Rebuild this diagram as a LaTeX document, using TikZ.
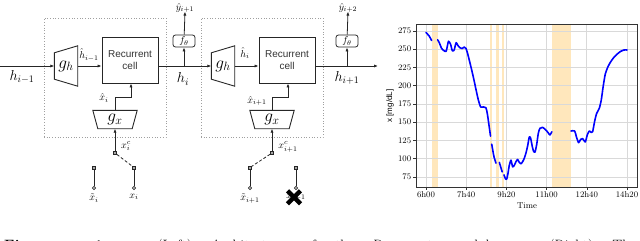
\documentclass[tikz,border=0pt]{standalone}
\usepackage{amsmath,amssymb}
\usepackage{fontspec}
\setsansfont{Liberation Sans}
\usepackage{tikz}
\usetikzlibrary{positioning, arrows.meta}

\definecolor{gapfill}{RGB}{255,231,188}

\begin{document}
\begin{tikzpicture}[
    x=1pt, y=-1pt,
    wire/.style={draw=black!85, line width=0.8pt},
    conn/.style={wire, -{Latex[length=4pt, width=3.2pt]}},
    cellbox/.style={draw=black!85, line width=0.9pt, minimum width=56pt, minimum height=46pt, font=\sffamily, text=black!80, align=center},
    blockbox/.style={draw=gray!75, dotted, line width=0.7pt, minimum width=122pt, minimum height=119pt},
    ghbox/.style={inner sep=0pt, minimum width=23pt, minimum height=40pt, font=\LARGE},
    gxbox/.style={inner sep=0pt, minimum width=44pt, minimum height=18pt, font=\LARGE},
    trap/.style={draw=black!85, line width=0.9pt},
    fbox/.style={draw=black!85, line width=0.8pt, rounded corners=2.5pt, minimum width=22pt, minimum height=12pt, inner sep=0pt},
    port/.style={draw=black!85, fill=black!35, minimum size=3.2pt, inner sep=0pt, line width=0.6pt},
    term/.style={circle, draw=black!85, fill=white, minimum size=3.2pt, inner sep=0pt, line width=0.6pt},
    hlbl/.style={font=\Large},
    smalllbl/.style={inner sep=1pt},
    ticklbl/.style={font=\fontsize{8.5}{10}\selectfont, inner sep=1.5pt},
    gridline/.style={draw=gray!30, line width=0.7pt},
    axisline/.style={draw=black!80, line width=0.6pt},
    curve/.style={blue, line width=1.6pt, line join=round, line cap=round},
]
\useasboundingbox (0,0) rectangle (640,241);

% --- two unrolled blocks ---
\foreach \k/\d in {A/0, B/157} {
    \node[blockbox] (box\k) at (105+\d, 77.5) {};
    \node[ghbox] (gh\k) at (66+\d, 66) {$g_h$};
    \draw[trap] ([yshift=-7pt]gh\k.north west) -- (gh\k.north east)
        -- (gh\k.south east) -- ([yshift=7pt]gh\k.south west) -- cycle;
    \node[cellbox] (cell\k) at (130+\d, 60) {Recurrent\\cell};
    \draw[conn] (gh\k.east) -- (cell\k.west |- gh\k.east);
    \node[gxbox] (gx\k) at (115+\d, 119.5) {$g_x$};
    \draw[trap] (gx\k.north west) -- (gx\k.north east)
        -- ([xshift=-5pt]gx\k.south east) -- ([xshift=5pt]gx\k.south west) -- cycle;
    \coordinate (bend\k) at (131+\d, 97);
    \draw[conn] (gx\k.north) |- (bend\k) -- (bend\k |- cell\k.south);
    \node[port] (sw\k) at (115+\d, 153) {};
    \draw[conn] (sw\k) -- (gx\k.south);
}

% --- inputs: switch between imputed and observed value ---
\foreach \k/\l/\r in {A/94/134, B/250/296} {
    \node[port] (lt\k) at (\l, 167.5) {};
    \node[port] (rt\k) at (\r, 167.5) {};
    \node[term] (lb\k) at (\l, 188) {};
    \node[term] (rb\k) at (\r, 188) {};
    \draw[wire] (lt\k) -- (lb\k);
    \draw[wire] (rt\k) -- (rb\k);
}
\draw[wire, dash pattern=on 3pt off 2pt] (swA) -- (rtA);
\draw[wire, dash pattern=on 3pt off 2pt] (swB) -- (ltB);

\node[below=0.5pt of lbA] (xtA) {$\tilde{x}_i$};
\node[below=0.5pt of rbA] (xA) {$x_i$};
\node[below=0.5pt of lbB] (xtB) {$\tilde{x}_{i+1}$};
\node[below=0.5pt of rbB] (xB) {$x_{i+1}$};
\coordinate (miss) at ([xshift=-2pt]xB.center);
\draw[line width=4.4pt] ([xshift=-6.5pt, yshift=6.5pt]miss) -- ([xshift=6.5pt, yshift=-6.5pt]miss)
    ([xshift=-6.5pt, yshift=-6.5pt]miss) -- ([xshift=6.5pt, yshift=6.5pt]miss);

% --- hidden state chain ---
\coordinate (hin) at (0,66);
\coordinate (hout) at (378,66);
\draw[conn] (hin) -- (ghA.west);
\draw[conn] (cellA.east |- ghA.east) -- (ghB.west);
\draw[conn] (cellB.east |- ghB.east) -- (hout);

% --- predictions ---
\foreach \k/\o in {A/184, B/347} {
    \coordinate (j\k) at (\o, 66);
    \node[fbox] (f\k) at (\o, 41) {$f_\theta$};
    \node (y\k) at (\o+1, 8) {};
    \draw[conn] (j\k) -- (f\k);
    \draw[conn] (f\k) -- (y\k.south);
}
\node at (yA) {$\hat{y}_{i+1}$};
\node at (yB) {$\hat{y}_{i+2}$};

% labels
\node[hlbl] (hinlbl) at (22,77) {$h_{i-1}$};
\node[hlbl] (hilbl) at (183,79) {$h_i$};
\node[hlbl] (hnextlbl) at (347,78) {$h_{i+1}$};
\node[smalllbl] (hhA) at (89,55) {$\hat{h}_{i-1}$};
\node[smalllbl] (hhB) at (245,53) {$\hat{h}_i$};
\node[smalllbl] (xhA) at (104,98) {$\hat{x}_i$};
\node[smalllbl] (xhB) at (257,101) {$\hat{x}_{i+1}$};
\node[smalllbl] (xcA) at (126,146) {$x^c_i$};
\node[smalllbl] (xcB) at (288,147) {$x^c_{i+1}$};

% --- glucose trace ---
\begin{scope}[shift={(426,231.75)}, x=0.402pt, y=0.73pt]
    \foreach \a/\b in {15/29, 160/164, 174/182, 189/193, 313/360}
        \fill[gapfill] (\a,61.3) rectangle (\b,284.6);
    \foreach \t in {0,100,...,500}
        \draw[gridline] (\t,61.3) -- (\t,284.6);
    \foreach \v in {75,100,...,275}
        \draw[gridline] (-25,\v) -- (525,\v);

    \draw[curve] plot[smooth, tension=0.4] coordinates {(0,273) (8,268) (14,262)};
    \draw[curve] plot[smooth, tension=0.4] coordinates {(29,263) (33,259) (39,251) (45,248)
        (50,247) (53,254) (56,261) (61,257) (65.5,248) (70,249) (75,259) (79.6,255) (84.5,252)
        (90,251) (95,253) (99.5,251) (103.6,244) (107.7,235) (113.5,222) (119.3,208) (124.3,195)
        (130,181) (135.9,171) (142.6,171) (149,170) (152.5,162) (156.7,146) (160.5,131)};
    \draw[curve] plot[smooth, tension=0.4] coordinates {(163.5,120) (166,112) (169,103) (174,94)};
    \draw[curve] plot[smooth, tension=0.4] coordinates {(182.4,95) (185.7,89) (189.5,82)};
    \draw[curve] plot[smooth, tension=0.4] coordinates {(194,78) (197.3,73) (200.6,72) (203.9,80)
        (207.2,91) (211.4,98) (215.5,89) (219.7,91) (223.8,96) (228,99) (232,95) (236,93)
        (240.4,96) (244.5,100.6) (248.7,108) (252.8,117.5) (257,130) (260.3,128) (263.6,119)
        (267,111) (271,109) (275.2,119) (279.4,135) (283.5,141.7) (290,143) (297,140)
        (303.4,136) (308.4,132.6) (313,137)};
    \draw[curve] plot[smooth, tension=0.4] coordinates {(360.6,138) (369.7,138) (374.7,129)
        (379.7,122) (384.6,126.6) (389.6,127.6) (396.2,123) (401.2,132.6) (406.2,138) (411.2,136)
        (414.5,137) (419.4,151) (424.4,162) (431,169) (436,180.5) (441,200) (446,216)
        (452.6,226) (459.2,232.6) (467.5,239) (475.8,243.5) (484,247) (492.4,249) (500,249)};

    \draw[axisline] (-25,61.3) rectangle (525,284.6);
    \foreach \v in {75,100,...,275}
        \draw[axisline] (-25,\v) -- ++(-3pt,0) node[left, ticklbl] {\v};
    \foreach \t/\s in {0/6h00, 100/7h40, 200/9h20, 300/11h00, 400/12h40, 500/14h20}
        \draw[axisline] (\t,61.3) -- ++(0,-3pt) node[below, ticklbl] {\s};
\end{scope}
\node[ticklbl] (tlbl) at (527,206) {Time};
\node[rotate=90, font=\sffamily\fontsize{8}{10}\selectfont] (ylbl) at (390,106) {x [mg/dL]};

% caption, cut by the page edge
\node[anchor=base west, inner sep=0pt, font=\fontsize{15}{18}\selectfont] (caption) at (4,250)
    {\makebox[632pt][s]{\textbf{Fig. 1.} (Left) Architecture of the Recurrent module. (Right) The}};
\end{tikzpicture}
\end{document}
